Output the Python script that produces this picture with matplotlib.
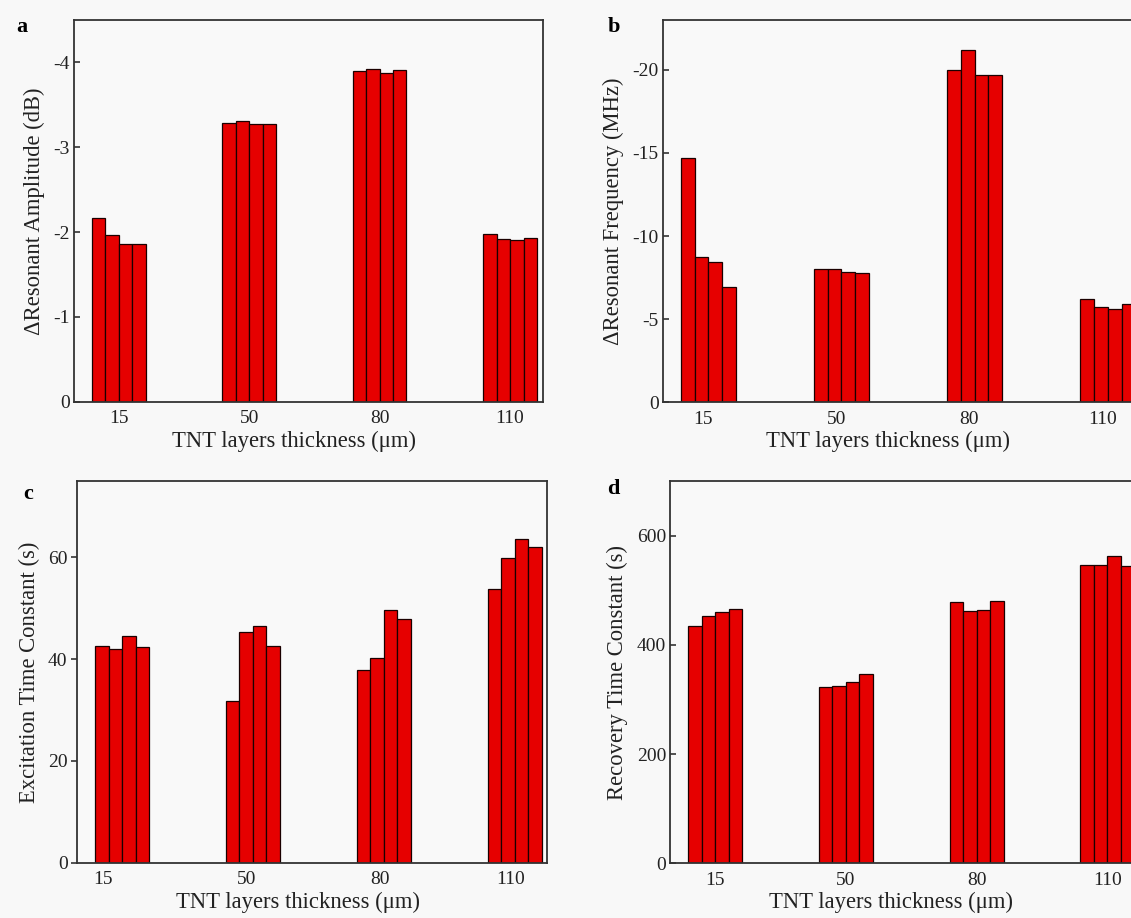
import matplotlib
matplotlib.use('Agg')
import matplotlib.pyplot as plt
import numpy as np

plt.rcParams['font.family'] = ['Liberation Serif', 'DejaVu Serif']
plt.rcParams['axes.unicode_minus'] = False

# TNT layer thickness groups, 4 repeated measurements each
thickness = ['15', '50', '80', '110']

amplitude = [[-2.17, -1.97, -1.86, -1.855],
             [-3.28, -3.31, -3.27, -3.27],
             [-3.90, -3.92, -3.87, -3.91],
             [-1.98, -1.92, -1.91, -1.93]]

frequency = [[-14.72, -8.75, -8.43, -6.96],
             [-8.04, -8.04, -7.86, -7.80],
             [-20.02, -21.22, -19.72, -19.72],
             [-6.22, -5.72, -5.62, -5.92]]

excitation = [[42.6, 41.9, 44.5, 42.4],
              [31.7, 45.3, 46.5, 42.6],
              [37.9, 40.3, 49.6, 47.8],
              [53.7, 59.9, 63.6, 62.1]]

recovery = [[434.8, 453.0, 460.4, 466.5],
            [323.2, 324.4, 331.7, 345.7],
            [478.7, 461.6, 464.6, 481.1],
            [545.7, 545.7, 562.2, 544.5]]

W, H = 1131, 918
fig = plt.figure(figsize=(W / 100, H / 100), dpi=100)
fig.patch.set_facecolor('#f8f8f8')

bw = 0.103


def px_axes(left, top, width, height):
    return fig.add_axes([left / W, (H - top - height) / H, width / W, height / H])


def draw(ax, data, ylim, yticks, ylabel, tick_dir, xtick_pos, width_px):
    data = np.array(data)
    for j in range(data.shape[1]):
        xs = np.arange(len(thickness)) + (j - 1.5) * bw
        ax.bar(xs, data[:, j], width=bw, color='#e60000',
               edgecolor='#1a0000', linewidth=0.9, zorder=2)
    ax.set_facecolor('#f9f9f9')
    ax.set_xlim(-0.342, 3.25)
    ax.set_ylim(*ylim)
    ax.set_yticks(yticks)
    ax.set_xticks(xtick_pos)
    ax.set_xticklabels(thickness)
    ax.tick_params(axis='x', length=0, pad=6, labelsize=14, colors='#222222')
    ax.tick_params(axis='y', direction=tick_dir, length=4, width=1.1, pad=3,
                   labelsize=14, colors='#222222')
    for s in ax.spines.values():
        s.set_linewidth(1.3)
        s.set_color('#333333')
    ax.set_xlabel('TNT layers thickness (μm)', fontsize=16.3, color='#222222')
    ax.set_ylabel(ylabel, fontsize=16.3, labelpad=6, color='#222222')
    # x label sits a little left of the axes centre in the reference
    ax.xaxis.set_label_coords(0.5 - 14 / width_px, -0.075)


idx = np.arange(len(thickness))

ax_a = px_axes(74, 20, 468.7, 381.7)
draw(ax_a, amplitude, (0, -4.5), [0, -1, -2, -3, -4],
     'ΔResonant Amplitude (dB)', 'in', idx, 468.7)

ax_b = px_axes(662.7, 20, 478.5, 382.3)
draw(ax_b, frequency, (0, -23), [0, -5, -10, -15, -20],
     'ΔResonant Frequency (MHz)', 'in', idx - 0.04, 478.5)

ax_c = px_axes(77.3, 481, 470, 381.7)
draw(ax_c, excitation, (0, 75), [0, 20, 40, 60],
     'Excitation Time Constant (s)', 'out', [-0.145, 0.953, 1.975, 2.97], 470)

ax_d = px_axes(670.3, 481, 469.8, 382.3)
draw(ax_d, recovery, (0, 700), [0, 200, 400, 600],
     'Recovery Time Constant (s)', 'in', idx, 469.8)

for lab, x, y in [('a', 22, 27), ('b', 614, 27), ('c', 28, 494), ('d', 613, 489)]:
    fig.text(x / W, 1 - y / H, lab, fontsize=16, fontweight='bold',
             ha='center', va='center')

fig.savefig('out.png', dpi=100, facecolor=fig.get_facecolor())
